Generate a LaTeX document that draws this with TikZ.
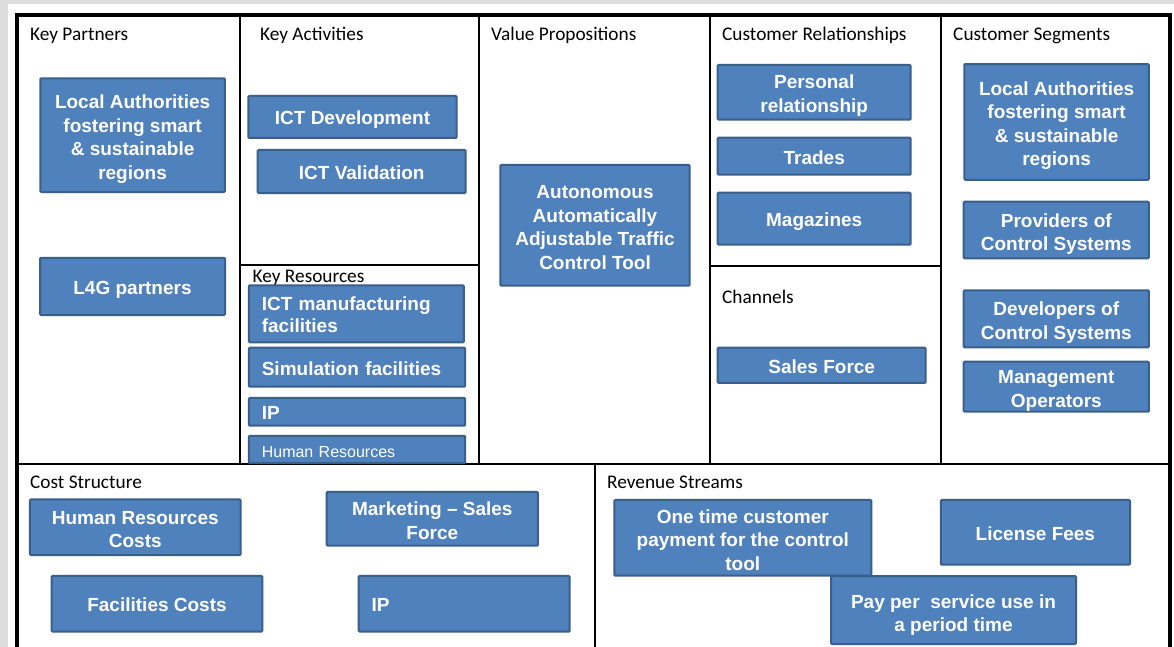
\documentclass[tikz,border=0pt]{standalone}
\usepackage{fontspec}
\setmainfont{Carlito}
\newfontfamily\boxfont{Liberation Sans}
\definecolor{boxfill}{HTML}{4F81BD}
\definecolor{boxedge}{HTML}{3A5F8B}
\definecolor{bggray}{HTML}{DDDDDD}
\newcommand\tpad[1][22pt]{\rule{0pt}{#1}}
\tikzset{
  bx/.style={draw=boxedge, fill=boxfill, line width=2pt, text=white,
    font=\boxfont\bfseries\fontsize{19}{23.5}\selectfont, align=center,
    inner sep=0pt, rounded corners=1pt,
    execute at begin node={\rule{0pt}{20.5pt}},
    execute at end node={\rule[-4.5pt]{0pt}{0pt}}},
  lbx/.style={bx, align=left, inner ysep=0pt, inner xsep=13pt, text width=#1},
  lbl/.style={anchor=base west, inner sep=0pt, text=black, font=\fontsize{19.3}{22}\selectfont},
  frame/.style={line width=4pt, black},
  divider/.style={line width=1.6pt, black}
}
\begin{document}
\begin{tikzpicture}[x=1pt,y=-1pt]
\useasboundingbox (0,0) rectangle (1174,647);
\fill[bggray] (0,0) rectangle (1174,647);
\fill[white] (8,4) rectangle (1174,647);
% grid
\coordinate (fTL) at (17,15); \coordinate (fTR) at (1170,15);
\coordinate (fBL) at (17,647); \coordinate (fBR) at (1170,647);
\draw[divider] (240,15) -- (240,464);
\draw[divider] (479,15) -- (479,464);
\draw[divider] (710,15) -- (710,464);
\draw[divider] (941,15) -- (941,464);
\draw[divider] (17,464) -- (1170,464);
\draw[divider] (595,464) -- (595,647);
\draw[divider] (240,265) -- (479,265);
\draw[divider] (710,266) -- (941,266);
\draw[frame] (fBL) -- (fTL) -- (fTR) -- (fBR);
% labels
\node[lbl] (lkp) at (30,41) {Key Partners};
\node[lbl] (lka) at (260,40.5) {Key Activities};
\node[lbl] (lvp) at (491,40.5) {Value Propositions};
\node[lbl] (lcr) at (722,41) {Customer Relationships};
\node[lbl] (lcs) at (953,40.5) {Customer Segments};
\node[lbl] (lkr) at (252.5,282.5) {Key Resources};
\node[lbl] (lch) at (722,303) {Channels};
\node[lbl] (lcost) at (30,488.5) {Cost Structure};
\node[lbl] (lrev) at (607,488.5) {Revenue Streams};
% key partners
\node[bx, minimum width=184.7, minimum height=113.7] (kp1) at (132.6,135.2) {\tpad Local Authorities\\fostering smart\\\& sustainable\\regions};
\node[bx, minimum width=185, minimum height=57.3] (kp2) at (132.5,286.4) {L4G partners};
% key activities
\node[bx, minimum width=208.4, minimum height=42] (ka1) at (352.5,117) {ICT Development};
\node[bx, minimum width=208, minimum height=43] (ka2) at (361.7,171.5) {ICT Validation};
% key resources
\node[lbx=189, minimum height=57, font=\boxfont\bfseries\fontsize{19}{21.7}\selectfont] (kr1) at (356.3,313.8) {ICT manufacturing\\facilities};
\node[lbx=190.4, minimum height=39] (kr2) at (357,367.2) {Simulation facilities};
\node[lbx=190.4, minimum height=27.7] (kr3) at (357,411.8) {IP};
\node[lbx=190.4, minimum height=27.3, font=\boxfont\fontsize{16}{19}\selectfont] (kr4) at (357,449.5) {Human Resources};
% value proposition
\node[bx, minimum width=189.4, minimum height=120.7] (vp) at (595,225.3) {\tpad Autonomous\\Automatically\\Adjustable Traffic\\Control Tool};
% customer relationships
\node[bx, minimum width=193, minimum height=54.7] (cr1) at (814.2,92.3) {\tpad[20.5pt]Personal\\relationship};
\node[bx, minimum width=193, minimum height=37] (cr2) at (814.2,156.2) {Trades};
\node[bx, minimum width=193, minimum height=52] (cr3) at (814.2,218.7) {Magazines};
% channels
\node[bx, minimum width=208, minimum height=35.3] (ch1) at (821.7,365.3) {Sales Force};
% customer segments
\node[bx, minimum width=184.7, minimum height=115.7] (cs1) at (1056.6,122) {\tpad Local Authorities\\fostering smart\\\& sustainable\\regions};
\node[bx, minimum width=185.3, minimum height=56.6] (cs2) at (1056.3,230) {\tpad Providers of\\Control Systems};
\node[bx, minimum width=185.3, minimum height=57] (cs3) at (1056.3,318.8) {\tpad Developers of\\Control Systems};
\node[bx, minimum width=185.3, minimum height=44.7] (cs4) at (1056.3,386.7) {\tpad Management\\Operators};
% cost structure
\node[bx, minimum width=210.7, minimum height=55.7] (c1) at (135.3,527.2) {\tpad Human Resources\\Costs};
\node[bx, minimum width=211.3, minimum height=53.7] (c2) at (432.3,518.8) {\tpad Marketing – Sales\\Force};
\node[bx, minimum width=210.6, minimum height=55.7] (c3) at (157,603.8) {Facilities Costs};
\node[lbx=185, minimum height=55.7] (c4) at (464.2,603.8) {IP};
% revenue streams
\node[bx, minimum width=245, minimum height=68] (r3) at (953.5,610) {\tpad[24pt]Pay per\ \ service use in\\a period time};
\node[bx, minimum width=257, minimum height=75.7] (r1) at (742.8,537.8) {\tpad One time customer\\payment for the control\\tool};
\node[bx, minimum width=189.2, minimum height=64.7] (r2) at (1035.4,532.3) {License Fees};
\end{tikzpicture}
\end{document}
